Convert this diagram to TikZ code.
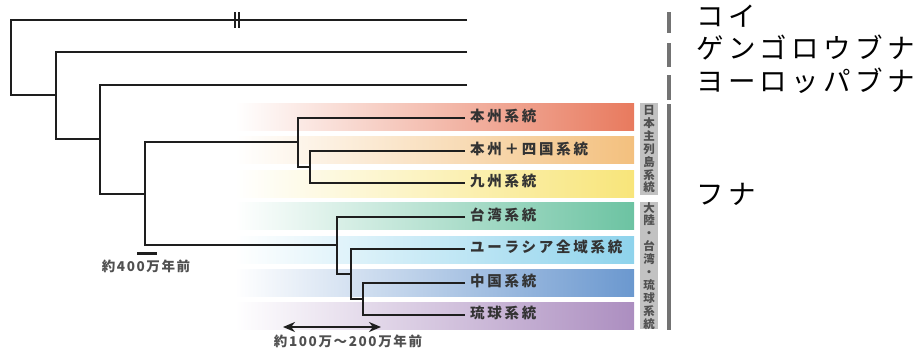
\documentclass[tikz,border=0pt]{standalone}
\usepackage{fontspec}
\setmainfont{Noto Sans CJK JP}
\usetikzlibrary{arrows.meta}
\definecolor{treec}{HTML}{1E1E1E}
\definecolor{labc}{HTML}{333333}
\definecolor{notec}{HTML}{505050}
\definecolor{cA}{HTML}{E87A5E}
\definecolor{cB}{HTML}{F3C07E}
\definecolor{cC}{HTML}{F8E57A}
\definecolor{cD}{HTML}{6CC3A2}
\definecolor{cE}{HTML}{8ED3EC}
\definecolor{cF}{HTML}{6B98CF}
\definecolor{cG}{HTML}{AC8EC0}
\definecolor{boxg}{HTML}{C2C2C2}
\definecolor{barg}{HTML}{737373}
\newcommand\lblfont{\fontsize{14.5}{17}\selectfont\bfseries\addfontfeature{LetterSpace=19}}
\newcommand\bigfont{\fontsize{27.5}{30}\selectfont\addfontfeature{LetterSpace=16}}
\newcommand\vfont{\fontsize{11.5}{12.9}\selectfont\bfseries}
\tikzset{
  branch/.style={line width=2pt, draw=treec, line join=miter},
  leaf/.style={anchor=west, inner xsep=5pt, inner ysep=0pt, text height=0.88em, text depth=0.12em, font=\lblfont, text=labc},
  bigleaf/.style={anchor=west, inner sep=0pt, text height=0.88em, text depth=0.12em, font=\bigfont, text=black},
  vbox/.style={fill=boxg, minimum width=18pt, inner sep=0pt, align=center, font=\vfont, text=notec},
  gbar/.style={line width=4.5pt, draw=barg},
  note/.style={inner sep=0pt, font=\fontsize{13.5}{15}\selectfont\bfseries\addfontfeature{LetterSpace=12}, text=notec}
}
\begin{document}
\begin{tikzpicture}[x=1pt,y=-1pt]
\useasboundingbox (0,0) rectangle (920,354);
% colour bands
\foreach \c/\yc in {cA/117, cB/150.3, cC/183.6, cD/216.4, cE/249.7, cF/283, cG/316.3}{
  \shade[left color=white, right color=\c] (235,\yc-13.5) rectangle (634,\yc+13.5);
}
% leaf labels
\node[leaf] (honshu) at (465,117.5) {本州系統};
\node[leaf] (hs) at (465,150.5) {本州＋四国系統};
\node[leaf] (kyushu) at (465,183) {九州系統};
\node[leaf] (taiwan) at (465,216.5) {台湾系統};
\node[leaf] (eurasia) at (465,249) {ユーラシア全域系統};
\node[leaf] (china) at (465,283) {中国系統};
\node[leaf] (ryukyu) at (465,315) {琉球系統};
% top leaf ends
\coordinate (koiEnd) at (467,19.5);
\coordinate (genEnd) at (467,51.5);
\coordinate (eurEnd) at (467,85);
% internal nodes
\coordinate (r) at (11,57);
\coordinate (n1) at (56,95);
\coordinate (n2) at (100,139);
\coordinate (n3) at (145,194);
\coordinate (jp) at (298,142);
\coordinate (j2) at (310,167);
\coordinate (cont) at (337,245);
\coordinate (c2) at (351,274);
\coordinate (c3) at (363,299);
% tree
\draw[branch] (koiEnd) -| (r) |- (n1);
\draw[branch] (genEnd) -| (n1) |- (n2);
\draw[branch] (eurEnd) -| (n2) |- (n3);
\draw[branch] (jp) -| (n3) |- (cont);
\draw[branch] (honshu.west) -| (jp) |- (j2);
\draw[branch] (hs.west) -| (j2) |- (kyushu.west);
\draw[branch] (taiwan.west) -| (cont) |- (c2);
\draw[branch] (eurasia.west) -| (c2) |- (c3);
\draw[branch] (china.west) -| (c3) |- (ryukyu.west);
% break mark on Koi line
\coordinate (bk1t) at (235.2,12); \coordinate (bk1b) at (235.2,27.5);
\coordinate (bk2t) at (239,12); \coordinate (bk2b) at (239,27.5);
\draw[line width=1.8pt, draw=treec] (bk1t) -- (bk1b);
\draw[line width=1.8pt, draw=treec] (bk2t) -- (bk2b);
% 400 scale
\coordinate (s4a) at (137,253.5); \coordinate (s4b) at (157,253.5);
\draw[line width=3pt, draw=treec] (s4a) -- (s4b);
\node[note, anchor=north] (t400) at (146,259.5) {約400万年前};
% 100-200 arrow
\coordinate (aL) at (283,327); \coordinate (aR) at (381,327);
\draw[line width=2.8pt, draw=treec, {Stealth[length=12pt,width=10pt]}-{Stealth[length=12pt,width=10pt]}] (aL) -- (aR);
\node[note, anchor=north] (t100) at (348,334.5) {約100万～200万年前};
% grey group boxes
\node[vbox, minimum height=92pt, anchor=north] (gJ) at (649,103) {日\\本\\主\\列\\島\\系\\統};
\node[vbox, minimum height=126pt, anchor=north] (gC) at (649,202) {大\\陸\\・\\台\\湾\\・\\琉\\球\\系\\統};
% right bars
\coordinate (b0t) at (669,12); \coordinate (b0b) at (669,33);
\coordinate (b1t) at (669,43); \coordinate (b1b) at (669,67);
\coordinate (b2t) at (669,75); \coordinate (b2b) at (669,100);
\coordinate (b3t) at (669,104); \coordinate (b3b) at (669,330);
\draw[gbar] (b0t) -- (b0b);
\draw[gbar] (b1t) -- (b1b);
\draw[gbar] (b2t) -- (b2b);
\draw[gbar] (b3t) -- (b3b);
% big labels
\node[bigleaf] (koi) at (696,22.5) {コイ};
\node[bigleaf] (gen) at (696,55) {ゲンゴロウブナ};
\node[bigleaf] (eur) at (696,87.5) {ヨーロッパブナ};
\node[bigleaf] (funa) at (696,201) {フナ};
\end{tikzpicture}
\end{document}
